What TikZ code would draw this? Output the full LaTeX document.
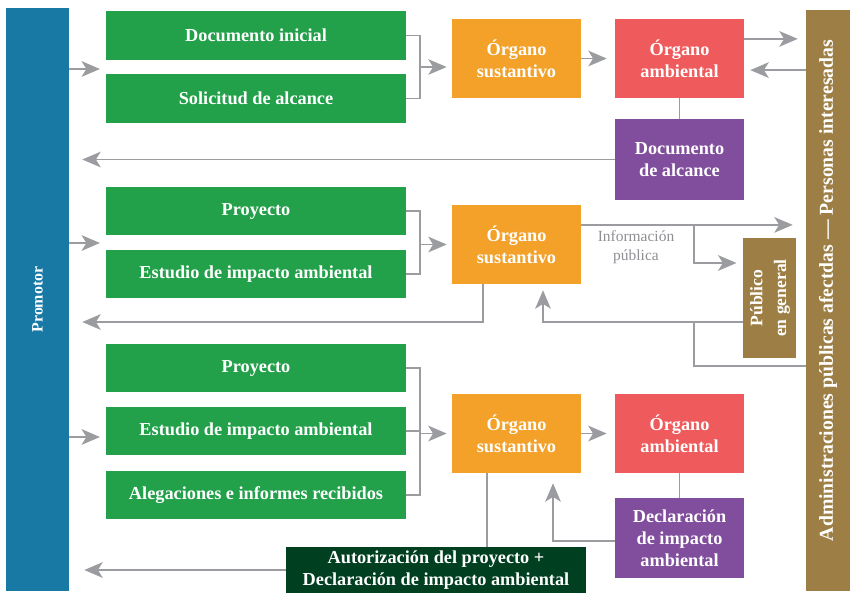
\documentclass[tikz,border=0pt]{standalone}
\usepackage{fontspec}
\setmainfont{Liberation Serif}
\usepackage{tikz}
\usetikzlibrary{arrows.meta, positioning, calc}
\definecolor{promfill}{HTML}{1979A5}
\definecolor{docfill}{HTML}{22A14A}
\definecolor{sustfill}{HTML}{F3A128}
\definecolor{ambfill}{HTML}{EF5A5C}
\definecolor{resfill}{HTML}{814E9E}
\definecolor{admfill}{HTML}{9D7F46}
\definecolor{autfill}{HTML}{003F20}
\definecolor{flowline}{HTML}{9B9CA0}
\definecolor{lblgray}{HTML}{8E8F93}
\tikzset{
  box/.style    = {rectangle, inner sep=2pt, align=center, text=white,
                   font=\fontsize{13}{15.6}\selectfont\bfseries},
  docblk/.style = {box, fill=docfill, minimum width=75mm, minimum height=12.1mm},
  sustblk/.style= {box, fill=sustfill, minimum width=32.25mm, minimum height=19.75mm},
  ambblk/.style = {box, fill=ambfill, minimum width=32.25mm, minimum height=19.75mm},
  resblk/.style = {box, fill=resfill, minimum width=32.25mm, minimum height=20.1mm},
  sideblk/.style= {box, fill=admfill},
  lbl/.style    = {align=center, text=lblgray, font=\fontsize{11}{13.3}\selectfont},
  flow/.style   = {-{Stealth[length=4.6mm, width=3.9mm, inset=1.2mm]}, line width=1.4pt, draw=flowline},
  link/.style   = {line width=1.4pt, draw=flowline},
}
\begin{document}
\begin{tikzpicture}[x=0.025cm, y=-0.025cm]
  \node[box, fill=promfill, minimum width=15.75mm, minimum height=145.75mm,
    font=\fontsize{11.3}{13}\selectfont\bfseries] (prom) at (37.5,299.5) {\rotatebox{90}{Promotor}};
  \node[sideblk, minimum width=11mm, minimum height=145.25mm,
    font=\fontsize{14}{16}\selectfont\bfseries] (adm) at (828,300.5)
    {\rotatebox{90}{\hspace*{5mm}Administraciones públicas afectdas — Personas interesadas}};
  \foreach \n/\y/\t in {
    d1/35.5/{Documento inicial},
    d2/98.5/{Solicitud de alcance},
    p2/211/{Proyecto},
    e2/274/{Estudio de impacto ambiental},
    p3/368/{Proyecto},
    e3/431/{Estudio de impacto ambiental},
    a3/495/{Alegaciones e informes recibidos}}{
    \node[docblk] (\n) at (256,\y) {\t};
  }
  \foreach \n/\y in {os1/58.5, os2/244.5, os3/433.5}{
    \node[sustblk] (\n) at (516.5,\y) {Órgano\\sustantivo};
  }
  \node[ambblk] (oa1) at (679.5,58.5) {Órgano\\ambiental};
  \node[ambblk] (oa3) at (679.5,433.5) {Órgano\\ambiental};
  \node[resblk] (alc) at (679.5,159.5) {Documento\\de alcance};
  \node[resblk] (dia) at (679.5,538) {Declaración\\de impacto\\ambiental};
  \node[sideblk, minimum width=12.75mm, minimum height=30mm,
    font=\fontsize{12.5}{17}\selectfont\bfseries] (pub) at (769.5,298)
    {\rotatebox{90}{\begin{tabular}{@{}c@{}}Público\\en general\end{tabular}}};
  \node[box, fill=autfill, minimum width=75mm, minimum height=11.5mm] (aut) at (436,570)
    {Autorización del proyecto +\\Declaración de impacto ambiental};
  \node[lbl] (info) at (636,247) {Información\\pública};
  % entradas del promotor
  \foreach \y in {69, 243, 437}{
    \coordinate (in) at (100,\y);
    \draw[flow] (prom.east |- in) -- (in);
  }
  % primera fase
  \coordinate (j1) at (420,67);
  \draw[link] (d1.east) -| (j1) |- (d2.east);
  \draw[flow, shorten >=1.25mm] (j1) -- (os1.west |- j1);
  \draw[flow, shorten >=2mm] (os1) -- (oa1);
  \coordinate (a1) at ([yshift=4.9mm]oa1.east);
  \coordinate (a2) at ([yshift=-2.9mm]oa1.east);
  \draw[flow, shorten >=2mm] (a1) -- (a1 -| adm.west);
  \draw[flow, shorten >=1.5mm] (a2 -| adm.west) -- (a2);
  \draw[link] (oa1) -- (alc);
  \draw[flow, shorten >=3.25mm] (alc.west) -- (alc.west -| prom.east);
  % segunda fase
  \coordinate (j2) at (420,244.5);
  \draw[link] (p2.east) -| (j2) |- (e2.east);
  \draw[flow, shorten >=1.25mm] (j2) -- (os2.west);
  \coordinate (i1) at ([yshift=4.9mm]os2.east);
  \draw[flow, shorten >=3.25mm] (i1) -- (i1 -| adm.west);
  \coordinate (bk) at (694,225);
  \coordinate (bp) at (694,263);
  \draw[flow, shorten >=1.5mm] (bk) -- (bp) -- (bp -| pub.west);
  \coordinate (rt) at (543,322);
  \draw[flow, shorten >=1.5mm] (rt -| pub.west) -- (rt) -- (rt |- os2.south);
  \coordinate (aj) at (694,366);
  \draw[link] (aj -| adm.west) -- (aj) -- (aj |- rt);
  \coordinate (ob) at (483,322);
  \draw[flow, shorten >=3.25mm] (ob |- os2.south) -- (ob) -- (ob -| prom.east);
  % tercera fase
  \coordinate (j3) at (420,433.5);
  \draw[link] (p3.east) -| (j3) |- (a3.east);
  \draw[link] (e3.east) -- (j3 |- e3.east);
  \draw[flow, shorten >=1.25mm] (j3) -- (os3.west);
  \draw[flow, shorten >=2mm] (os3) -- (oa3);
  \draw[link] (oa3) -- (dia);
  \coordinate (dr) at (553,541);
  \draw[flow, shorten >=2.5mm] (dr -| dia.west) -- (dr) -- (dr |- os3.south);
  \coordinate (ad) at (487,547);
  \draw[link] (ad |- os3.south) -- (ad);
  \draw[flow, shorten >=3.75mm] (aut.west) -- (aut.west -| prom.east);
  \pgfresetboundingbox
  \useasboundingbox (0,0) rectangle (850,593);
\end{tikzpicture}
\end{document}
